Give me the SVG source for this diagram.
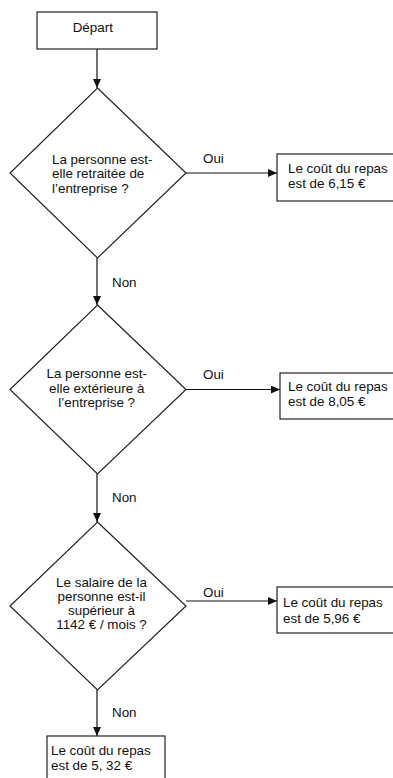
<svg xmlns="http://www.w3.org/2000/svg" width="393" height="778" viewBox="0 0 393 778">
<defs>
<style>
.shape{fill:#fff;stroke:#222;stroke-width:1.2}
.edge{fill:none;stroke:#111;stroke-width:1.2}
text{font-family:"Liberation Sans",Arial,sans-serif;font-size:13.4px;fill:#111}
.c{text-anchor:middle}
</style>
<marker id="arr" markerUnits="userSpaceOnUse" markerWidth="10" markerHeight="9" refX="9" refY="4" orient="auto">
<path d="M0,0 L9,4 L0,8 z" fill="#111"/>
</marker>
</defs>
<rect width="393" height="778" fill="#fff"/>
<g id="connectors">
<line class="edge" x1="97" y1="49" x2="97" y2="88" marker-end="url(#arr)"/>
<line class="edge" x1="186" y1="173" x2="277" y2="173" marker-end="url(#arr)"/>
<line class="edge" x1="97" y1="258" x2="97" y2="305" marker-end="url(#arr)"/>
<line class="edge" x1="186" y1="389.5" x2="280" y2="389.5" marker-end="url(#arr)"/>
<line class="edge" x1="97" y1="474" x2="97" y2="522" marker-end="url(#arr)"/>
<line class="edge" x1="186" y1="601" x2="277" y2="601" marker-end="url(#arr)"/>
<line class="edge" x1="97" y1="690" x2="97" y2="736" marker-end="url(#arr)"/>
<text x="203" y="163">Oui</text>
<text x="203" y="379">Oui</text>
<text x="203" y="597">Oui</text>
<text x="112" y="287">Non</text>
<text x="112" y="502">Non</text>
<text x="112" y="717">Non</text>
</g>
<g id="start">
<rect class="shape" x="37" y="12" width="120" height="37"/>
<text x="72.7" y="32">Départ</text>
</g>
<g id="q1">
<polygon class="shape" points="97.5,88 186,173 97.5,258 10,173"/>
<text x="52" y="163.5">La personne est-</text>
<text x="52" y="178">elle retraitée de</text>
<text x="52" y="192.5">l’entreprise ?</text>
</g>
<g id="r1">
<rect class="shape" x="277" y="154" width="130" height="47"/>
<text x="288" y="173">Le coût du repas</text>
<text x="288" y="188">est de 6,15 €</text>
</g>
<g id="q2">
<polygon class="shape" points="97.5,305 186,389.5 97.5,474 10,389.5"/>
<text class="c" x="96.7" y="378">La personne est-</text>
<text class="c" x="96.7" y="392.5">elle extérieure à</text>
<text class="c" x="96.7" y="407">l’entreprise ?</text>
</g>
<g id="r2">
<rect class="shape" x="280" y="373" width="130" height="46"/>
<text x="288" y="391">Le coût du repas</text>
<text x="288" y="405.5">est de 8,05 €</text>
</g>
<g id="q3">
<polygon class="shape" points="97.5,522 186,606 97.5,690 10,606"/>
<text class="c" x="101.5" y="587">Le salaire de la</text>
<text class="c" x="101.5" y="601">personne est-il</text>
<text class="c" x="101.5" y="615">supérieur à</text>
<text class="c" x="101.5" y="629">1142 € / mois ?</text>
</g>
<g id="r3">
<rect class="shape" x="277" y="587" width="130" height="46"/>
<text x="283" y="607">Le coût du repas</text>
<text x="283" y="622.5">est de 5,96 €</text>
</g>
<g id="r4">
<rect class="shape" x="47" y="736" width="118" height="50"/>
<text x="51" y="755">Le coût du repas</text>
<text x="51" y="769.5">est de 5, 32 €</text>
</g>
</svg>
